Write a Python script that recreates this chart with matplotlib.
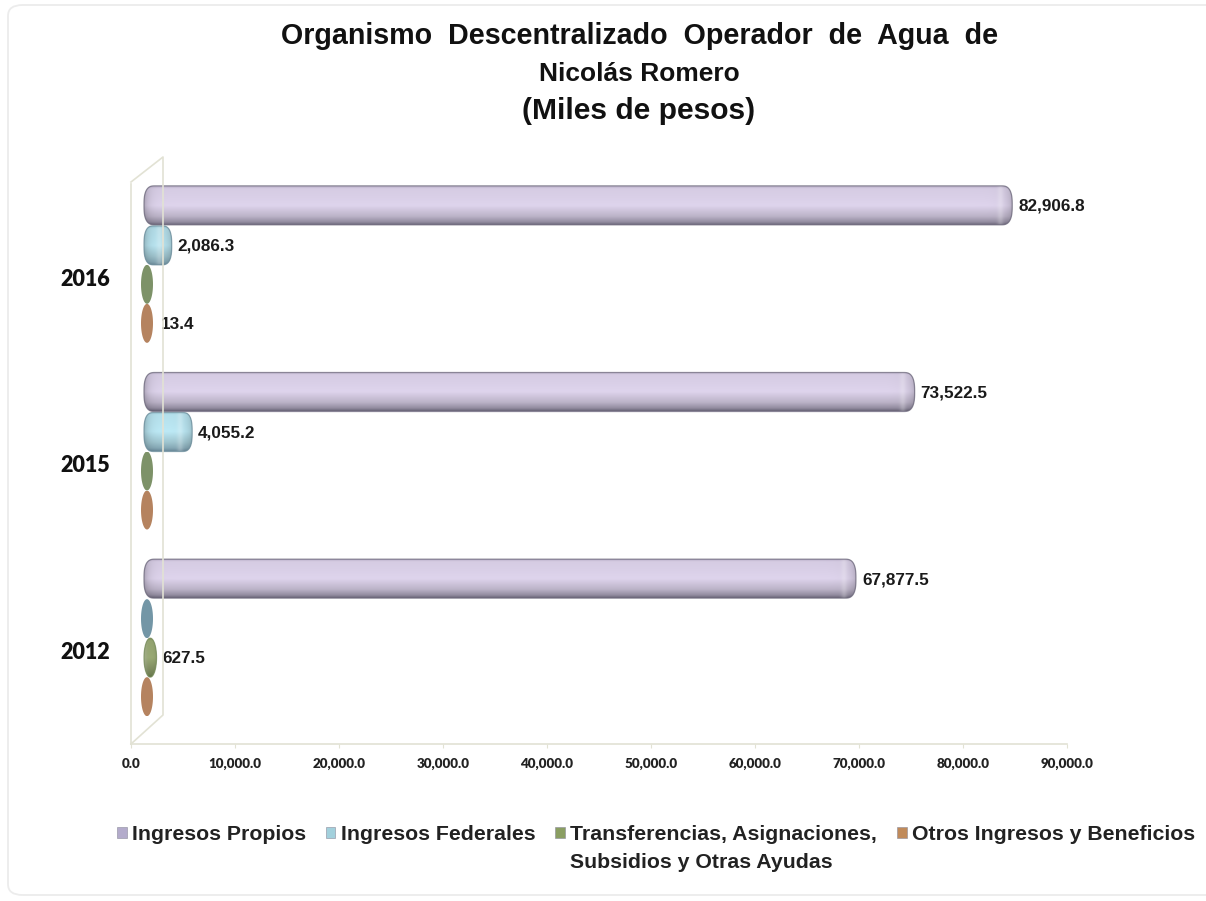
import numpy as np
import matplotlib
matplotlib.use("Agg")
import matplotlib.pyplot as plt
from matplotlib.path import Path
from matplotlib.patches import PathPatch, Patch, FancyBboxPatch
from matplotlib.lines import Line2D

W, H = 1206, 901
years = ["2012", "2015", "2016"]
series_names = ["Ingresos Propios", "Ingresos Federales",
                "Transferencias, Asignaciones,\nSubsidios y Otras Ayudas",
                "Otros Ingresos y Beneficios"]
propios = [67877.5, 73522.5, 82906.8]
federales = [0.0, 4055.2, 2086.3]
transferencias = [627.5, 0.0, 0.0]
otros = [0.0, 0.0, 13.4]
labels_propios = ["67,877.5", "73,522.5", "82,906.8"]
labels_federales = ["", "4,055.2", "2,086.3"]
labels_transf = ["627.5", "", ""]
labels_otros = ["", "", "13.4"]
xticks = [0, 10000, 20000, 30000, 40000, 50000, 60000, 70000, 80000, 90000]

series = [propios, federales, transferencias, otros]
series_labels = [labels_propios, labels_federales, labels_transf, labels_otros]
colors = [("#B9AEC8", "#DAD0E8", "#6A6578"),
          ("#9CCAD8", "#BAE6F2", "#6C8C9C"),
          ("#8FA466", "#AEC184", "#6F8450"),
          ("#B5835F", "#BC8C68", "#A87752")]
edges = ["#6E6A7C", "#70909E", "#7A8F5E", "#A87752"]
flat = ["#B5ABCB", "#7396A6", "#7D9268", "#B5835F"]
legend_colors = ["#B3ABCB", "#A2D0DC", "#8A9E62", "#C08A5A"]
offs_px = [72, 32, -7, -46]

plt.rcParams["font.family"] = ["Liberation Sans", "DejaVu Sans"]
fig = plt.figure(figsize=(W / 100, H / 100), dpi=100, facecolor="white")
ax = fig.add_axes([131 / W, 1 - 744 / H, 936 / W, 560 / H])
PXX = 90000 / 936
PXY = 3 / 560
FRAME = "#E2E2D4"


def hex2rgb(c):
    return np.array(matplotlib.colors.to_rgb(c))


def capsule(x0, x1, yc, h, rx, p):
    t = np.linspace(-np.pi / 2, np.pi / 2, 60)
    cx = np.abs(np.cos(t)) ** p
    sy = np.sign(np.sin(t)) * np.abs(np.sin(t)) ** p
    xr = x1 - rx + rx * cx
    yr = yc + h / 2 * sy
    xl = x0 + rx - rx * cx[::-1]
    yl = yc + h / 2 * sy[::-1]
    pts = np.column_stack([np.r_[xr, xl], np.r_[yr, yl]])
    return Path(np.vstack([pts, pts[0]]), closed=True)


for si, vals in enumerate(series):
    for ci, v in enumerate(vals):
        yc = ci + offs_px[si] * PXY
        h = 39 * PXY
        small = v < 100
        left_px = 141 if small else 144
        right_px = 153 if small else 150 + v / PXX
        if si == 0:
            rx_px = 11
        elif small:
            rx_px = 6
        else:
            rx_px = min(10, (right_px - left_px) / 2)
        p = 1.0 if (small or si == 2) else 0.72
        x0 = (left_px - 131) * PXX
        x1 = (right_px - 131) * PXX
        path = capsule(x0, x1, yc, h, rx_px * PXX, p)
        clip = PathPatch(path, transform=ax.transData)
        bar = ax.barh(yc, x1 - x0, height=h, left=x0, color=flat[si],
                      linewidth=0, zorder=3)[0]
        bar.set_clip_path(clip)
        if not small:
            c_top, c_mid, c_bot = [hex2rgb(c) for c in colors[si]]
            ny = 80
            nx = max(int(right_px - left_px) * 2, 4)
            s = np.linspace(0, 1, ny)
            col = np.zeros((ny, 3))
            for k in range(3):
                low = c_mid[k] * 0.86
                col[:, k] = np.interp(s, [0, .06, .3, .5, .78, .93, 1],
                                      [c_top[k], c_mid[k] * .98, c_mid[k], c_mid[k] * 1.02, low,
                                       (low + c_bot[k]) / 2, c_bot[k]])
            img = np.repeat(col[:, None, :], nx, axis=1)
            d_r = ((right_px - left_px) * 2 - np.arange(nx)) / 2
            d_l = np.arange(nx) / 2
            shade = 1 - 0.22 * np.exp(-d_r / 6.0) - 0.22 * np.exp(-d_l / 5.0)
            hi = 0.22 * np.exp(-((d_r - 13) / 3.0) ** 2)
            img = img * shade[None, :, None]
            img = img + (1 - img) * hi[None, :, None]
            im = ax.imshow(np.clip(img, 0, 1), extent=(x0, x1, yc - h / 2, yc + h / 2),
                           origin="upper", aspect="auto", zorder=4, interpolation="bilinear")
            im.set_clip_path(clip)
            ax.add_patch(PathPatch(path, facecolor="none", edgecolor=edges[si],
                                   linewidth=0.9, alpha=0.75, zorder=4.5))
        txt = series_labels[si][ci]
        if txt:
            dx = 8 if small else 6
            ax.annotate(txt, xy=(x1, yc), xytext=(dx, -1), textcoords="offset pixels",
                        ha="left", va="center", fontsize=12.3, fontweight="bold",
                        color="#1a1a1a", zorder=5)

ax.set_xlim(0, 90000)
ax.set_ylim(-0.5, 2.5)
ax.set_aspect("auto")
ax.set_xticks(xticks)
ax.set_xticklabels([f"{t:,.1f}" for t in xticks], fontsize=9.6, fontweight="heavy",
                   family=["Lato", "DejaVu Sans"], color="#222222")
ax.set_yticks(range(3))
ax.set_yticklabels(years, fontsize=15.5, fontweight="heavy",
                   family=["Lato", "DejaVu Sans"], color="#111111")
ax.tick_params(axis="x", length=3, color=FRAME, pad=7)
ax.tick_params(axis="y", length=0, pad=15)
for side in ["top", "right"]:
    ax.spines[side].set_visible(False)
for side in ["left", "bottom"]:
    ax.spines[side].set_color(FRAME)
    ax.spines[side].set_linewidth(1.2)


def fx(px):
    return px / W


def fy(py):
    return 1 - py / H


wall_x = [131, 163, 163, 131]
wall_y = [182, 157, 715, 744]
fig.add_artist(Line2D([fx(p) for p in wall_x], [fy(p) for p in wall_y],
                      color=FRAME, lw=1.2, zorder=1))

fig.add_artist(FancyBboxPatch((fx(8), fy(895)), fx(1215), fy(5) - fy(895),
                              boxstyle="round,pad=0,rounding_size=0.012",
                              transform=fig.transFigure, fill=False,
                              edgecolor="#ECECEC", lw=1.3, zorder=0))

fig.text(fx(640), fy(36), "Organismo  Descentralizado  Operador  de  Agua  de", ha="center", va="center",
         fontsize=20.6, fontweight="bold", color="#111111")
fig.text(fx(639), fy(74), "Nicolás Romero", ha="center", va="center",
         fontsize=19.0, fontweight="bold", color="#111111")
fig.text(fx(639), fy(111), "(Miles de pesos)", ha="center", va="center",
         fontsize=21.6, fontweight="bold", color="#111111")

handles = [Patch(facecolor=c, edgecolor="#8b8b9b", linewidth=0.4) for c in legend_colors]
leg = fig.legend(handles, series_names, loc="upper left", bbox_to_anchor=(fx(117), fy(825)),
                 ncol=4, frameon=False, borderpad=0, borderaxespad=0,
                 handlelength=0.45, handleheight=0.45, handletextpad=0.24, columnspacing=0.95,
                 labelspacing=0, prop={"weight": "bold", "size": 15.28})
for t in leg.get_texts():
    t.set_color("#222222")
    t.set_linespacing(1.58)
leg._legend_handle_box.align = "top"
leg.get_patches()[2].set_y(12.5)

fig.savefig("out.png", dpi=100)
